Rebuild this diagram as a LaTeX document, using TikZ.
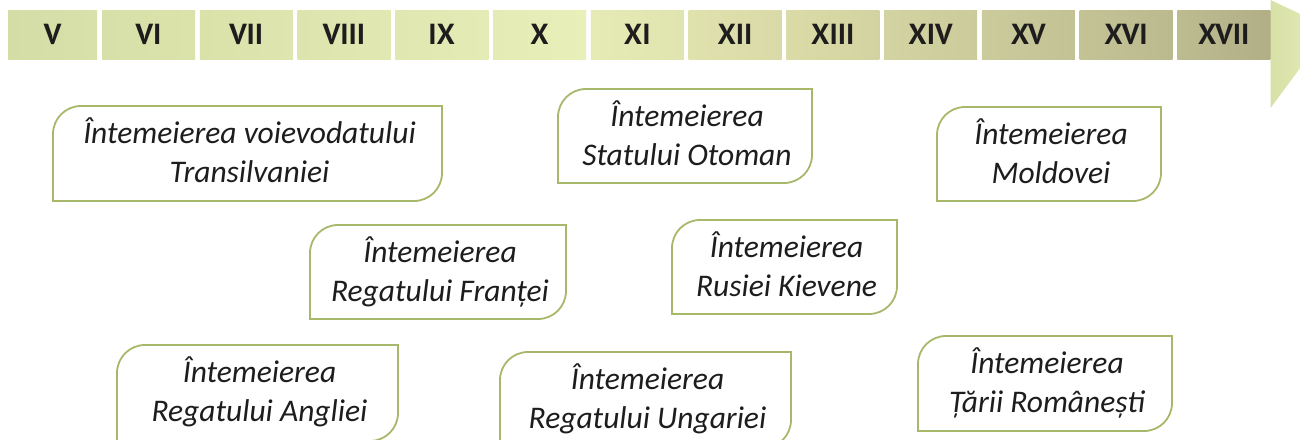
\documentclass[tikz,border=0pt]{standalone}
\usepackage{fontspec}
\newfontfamily\carl{Carlito}
\newfontfamily\ptsans{PT Sans}
\definecolor{txt}{HTML}{1E1C1D}
\definecolor{frame}{HTML}{A8B86A}
\definecolor{aL}{HTML}{D7E0A7}
\definecolor{aR}{HTML}{E8EEBA}
\definecolor{c1l}{HTML}{D3DDA5}\definecolor{c1r}{HTML}{D8E1A9}
\definecolor{c2l}{HTML}{D7E0A8}\definecolor{c2r}{HTML}{DBE3AB}
\definecolor{c3l}{HTML}{DAE2AA}\definecolor{c3r}{HTML}{DEE5AE}
\definecolor{c4l}{HTML}{DDE4AD}\definecolor{c4r}{HTML}{E1E8B1}
\definecolor{c5l}{HTML}{E0E7B0}\definecolor{c5r}{HTML}{E4EBB4}
\definecolor{c6l}{HTML}{E4EBB4}\definecolor{c6r}{HTML}{E8EFB9}
\definecolor{c7l}{HTML}{E6EBB5}\definecolor{c7r}{HTML}{E0E4AE}
\definecolor{c8l}{HTML}{E0E2AE}\definecolor{c8r}{HTML}{D9DAA7}
\definecolor{c9l}{HTML}{DBDBA8}\definecolor{c9r}{HTML}{D3D3A1}
\definecolor{c10l}{HTML}{D3D4A2}\definecolor{c10r}{HTML}{CBCB9B}
\definecolor{c11l}{HTML}{CCCB9C}\definecolor{c11r}{HTML}{C3C295}
\definecolor{c12l}{HTML}{C4C396}\definecolor{c12r}{HTML}{BBB98E}
\definecolor{c13l}{HTML}{BDBB90}\definecolor{c13r}{HTML}{B2AF87}
\tikzset{
  cellbox/.style={inner sep=0pt, minimum height=49pt, text=txt,
    font=\ptsans\bfseries\fontsize{29}{32}\selectfont},
  evline/.style={draw=frame, line width=1.8pt, fill=white},
  evtext/.style={anchor=base, inner sep=0pt, text=txt,
    font=\carl\itshape\fontsize{31.5}{36}\selectfont},
}
% name, left x, width, left colour, right colour, label
\newcommand\tlcell[6]{%
  \node[cellbox, minimum width=#3pt, left color=#4, right color=#5] (#1) at ({#2+#3/2},34.5) {#6};}
% name, x1, y1, x2, y2, line 1, line 2
\newcommand\evbox[7]{%
  \node[inner sep=0pt, minimum width={(#4-#2)*1pt}, minimum height={(#5-#3)*1pt}] (#1) at ({(#2+#4)/2},{(#3+#5)/2}) {};
  \draw[evline] ({#2+28},#3) -- (#4,#3) -- (#4,{#5-28})
     .. controls (#4,{#5-12.5}) and ({#4-12.5},#5) .. ({#4-28},#5)
     -- (#2,#5) -- (#2,{#3+28})
     .. controls (#2,{#3+12.5}) and ({#2+12.5},#3) .. cycle;
  \node[evtext] (#1-a) at ({(#2+#4)/2+2},{#3+37}) {#6};
  \node[evtext] (#1-b) at ({(#2+#4)/2+2},{#3+76}) {#7};}
\begin{document}
\begin{tikzpicture}[x=1pt,y=-1pt]
\useasboundingbox (0,0) rectangle (1300,439);
\begin{scope}
\clip (0,0) rectangle (1300,439);
% timeline
\tlcell{cV}{8}{89}{c1l}{c1r}{V}
\tlcell{cVI}{102}{93}{c2l}{c2r}{VI}
\tlcell{cVII}{199.75}{93}{c3l}{c3r}{VII}
\tlcell{cVIII}{297.5}{93}{c4l}{c4r}{VIII}
\tlcell{cIX}{395.25}{93}{c5l}{c5r}{IX}
\tlcell{cX}{493}{93}{c6l}{c6r}{X}
\tlcell{cXI}{590.75}{93}{c7l}{c7r}{XI}
\tlcell{cXII}{688.5}{93}{c8l}{c8r}{XII}
\tlcell{cXIII}{786.25}{93}{c9l}{c9r}{XIII}
\tlcell{cXIV}{884}{93}{c10l}{c10r}{XIV}
\tlcell{cXV}{981.75}{93}{c11l}{c11r}{XV}
\tlcell{cXVI}{1079.5}{93}{c12l}{c12r}{XVI}
\tlcell{cXVII}{1177.25}{93}{c13l}{c13r}{XVII}
\shade[left color=aL, right color=aR] (1270.5,0) -- (1330,28) -- (1270.5,108) -- cycle;
% event boxes
\evbox{transilvania}{53}{106}{442}{201}{Întemeierea voievodatului}{Transilvaniei}
\evbox{otoman}{558}{89}{812}{183}{Întemeierea}{Statului Otoman}
\evbox{moldova}{937}{107}{1161}{201}{Întemeierea}{Moldovei}
\evbox{franta}{310}{225}{566}{319}{Întemeierea}{Regatului Franței}
\evbox{rusia}{672}{220}{897}{314}{Întemeierea}{Rusiei Kievene}
\evbox{anglia}{117}{345}{398}{441}{Întemeierea}{Regatului Angliei}
\evbox{ungaria}{500}{352}{791}{448}{Întemeierea}{Regatului Ungariei}
\evbox{tararom}{918}{336}{1172}{431}{Întemeierea}{Țării Românești}
\end{scope}
\end{tikzpicture}
\end{document}
